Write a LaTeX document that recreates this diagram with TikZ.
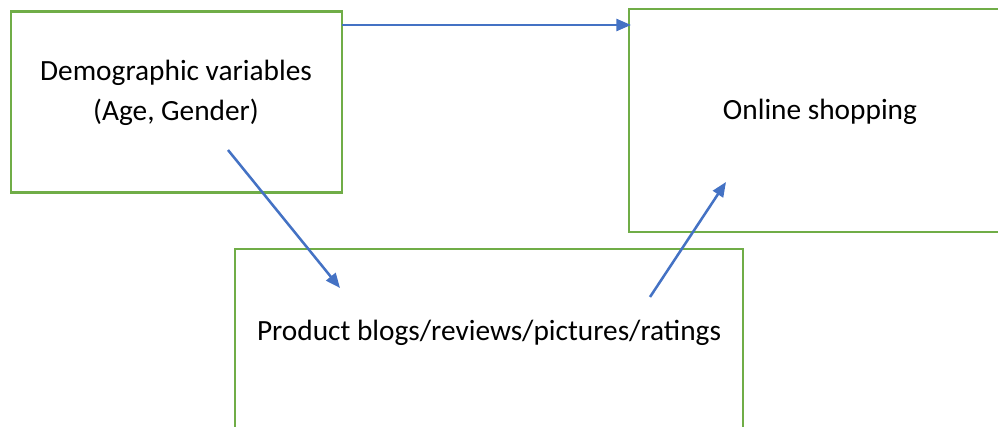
\documentclass[tikz,border=0pt]{standalone}
\usepackage{fontspec}
\setmainfont{Carlito}
\usetikzlibrary{arrows.meta}
\definecolor{boxgreen}{HTML}{70AD47}
\definecolor{arrowblue}{HTML}{4472C4}
\tikzset{
  boxnode/.style={draw=boxgreen, line width=1.9pt, rectangle, inner sep=0pt},
  label/.style={font=\fontsize{22pt}{30pt}\selectfont, align=center, inner sep=0pt},
  conn/.style={draw=arrowblue, line width=1.9pt, -{Triangle[length=11pt,width=9pt]}}
}
\begin{document}
\begin{tikzpicture}[x=0.75pt,y=-0.75pt]
\useasboundingbox (0,0) rectangle (998,427);
\clip (0,0) rectangle (998,427);
\node[boxnode, minimum width=331*0.75pt, minimum height=181*0.75pt] (demo) at (176.5,102) {};
\node[boxnode, minimum width=372*0.75pt, minimum height=223*0.75pt] (online) at (815,120.5) {};
\node[boxnode, minimum width=508*0.75pt, minimum height=200*0.75pt] (product) at (489,349) {};
\node[label] (demotext) at (176,93) {Demographic variables\\(Age, Gender)};
\node[label] (onlinetext) at (820,112) {Online shopping};
\node[label] (producttext) at (489,333) {Product blogs/reviews/pictures/ratings};
\coordinate (a1s) at (342,25);
\coordinate (a1e) at (631,25);
\coordinate (a2s) at (228,150);
\coordinate (a2e) at (340,288);
\coordinate (a3s) at (650,297);
\coordinate (a3e) at (726,182);
\draw[conn] (a1s) -- (a1e);
\draw[conn] (a2s) -- (a2e);
\draw[conn] (a3s) -- (a3e);
\end{tikzpicture}
\end{document}
